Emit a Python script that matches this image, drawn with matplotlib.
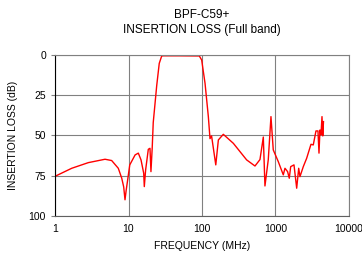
import matplotlib
matplotlib.use("Agg")
import matplotlib.pyplot as plt

freq_mhz = [1, 1.69, 2.84, 4.79, 5.9, 7.26, 8.09, 8.6, 8.96, 9.3, 9.74, 10.4, 12.3, 13.6, 14.8, 16.1, 16.4, 17.1,
            18.6, 19.6, 20.2, 21.0, 21.7, 24.2, 26.2, 28.3, 30, 50, 91.9, 99, 110, 122, 128.5, 135, 154, 167,
            195, 267, 405, 526, 615, 683, 719, 798, 868, 933, 1092, 1277, 1346, 1462, 1541, 1610, 1786,
            1943, 2070, 2154, 2390, 2656, 3041, 3268, 3556, 3786, 3909, 4030, 4160, 4295, 4400, 4500]
loss_db = [75.4, 70.4, 66.9, 64.8, 65.6, 70.4, 76.6, 82, 90, 84, 77.6, 68.3, 62.1, 61, 65.2, 73.5, 81.8, 71.4,
           58.6, 58, 72.5, 58, 42, 19, 5.2, 0.6, 0.5, 0.5, 0.6, 3.1, 17.6, 38.3, 52, 50.3, 68.3, 52.8,
           49.3, 54.9, 65.2, 69, 65, 51, 81.4, 65, 38.3, 59, 66.3, 74.5, 70.4, 72.5, 76.6, 69.4, 68.3,
           82.8, 70.4, 75.6, 69.4, 64.2, 55.5, 55.9, 47.2, 47.2, 61, 46.6, 49.7, 38.3, 50.3, 41.4]

x_ticks = [1, 10, 100, 1000, 10000]
x_labels = ["1", "10", "100", "1000", "10000"]
y_ticks = [0, 25, 50, 75, 100]

plt.rcParams['font.family'] = ['Liberation Sans', 'DejaVu Sans']

fig = plt.figure(figsize=(3.62, 2.57), dpi=100)
ax = fig.add_axes([0.152, 0.160, 0.812, 0.626])
ax.plot(freq_mhz, loss_db, color='red', lw=1.0)
ax.set_xscale('log')
ax.set_xlim(1, 10000)
ax.set_ylim(100, 0)
ax.set_xticks(x_ticks)
ax.set_xticklabels(x_labels)
ax.minorticks_off()
ax.set_yticks(y_ticks)
ax.grid(True, color='#808080', lw=0.8)
ax.tick_params(axis='both', labelsize=7.5, length=3, color='#808080')
ax.tick_params(axis='x', length=0, pad=6)
for s in ax.spines.values():
    s.set_color('#808080')
ax.spines['left'].set_color('black')
ax.spines['bottom'].set_color('#606060')
ax.set_xlabel('FREQUENCY (MHz)', fontsize=7.5, labelpad=5)
ax.set_ylabel('INSERTION LOSS (dB)', fontsize=7.5, labelpad=8)
fig.text(0.558, 0.942, 'BPF-C59+', ha='center', va='center', fontsize=8.5)
fig.text(0.558, 0.883, 'INSERTION LOSS (Full band)', ha='center', va='center', fontsize=8.5)
fig.savefig('out.png', dpi=100)
